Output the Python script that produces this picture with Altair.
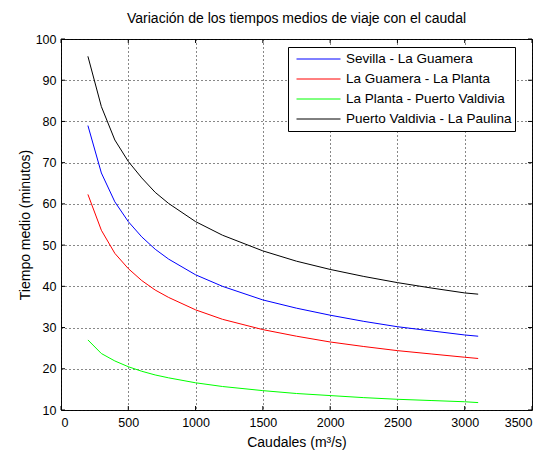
import altair as alt
import pandas as pd

caudal = [200, 300, 400, 500, 600, 700, 800, 1000, 1200, 1500, 1750, 2000, 2250, 2500, 2750, 3000, 3100]
sevilla_guamera = [79.0, 67.5, 60.5, 55.7, 52.0, 49.0, 46.6, 42.8, 40.0, 36.7, 34.7, 33.0, 31.5, 30.2, 29.2, 28.2, 27.9]
guamera_planta = [62.3, 53.6, 48.0, 44.3, 41.4, 39.1, 37.3, 34.3, 32.0, 29.5, 27.9, 26.5, 25.4, 24.4, 23.6, 22.8, 22.5]
planta_valdivia = [27.0, 23.7, 21.9, 20.5, 19.4, 18.5, 17.8, 16.6, 15.7, 14.7, 14.0, 13.5, 13.0, 12.6, 12.3, 12.0, 11.8]
valdivia_paulina = [95.8, 83.6, 75.5, 70.3, 66.3, 62.8, 60.1, 55.7, 52.4, 48.6, 46.1, 44.1, 42.4, 40.9, 39.6, 38.4, 38.1]

series_names = ["Sevilla - La Guamera", "La Guamera - La Planta",
                "La Planta - Puerto Valdivia", "Puerto Valdivia - La Paulina"]
series_colors = ["#0000ff", "#ff0000", "#00ff00", "#000000"]
x_ticks = [0, 500, 1000, 1500, 2000, 2500, 3000, 3500]
y_ticks = [10, 20, 30, 40, 50, 60, 70, 80, 90, 100]

rows = []
for name, vals in zip(series_names, [sevilla_guamera, guamera_planta, planta_valdivia, valdivia_paulina]):
    for q, t in zip(caudal, vals):
        rows.append({"Caudal": q, "Tiempo": t, "Tramo": name})
df = pd.DataFrame(rows)

xs = alt.Scale(domain=[0, 3500], nice=False, zero=False)
ys = alt.Scale(domain=[10, 100], nice=False, zero=False)

lines = alt.Chart(df).mark_line(strokeWidth=1, clip=True).encode(
    x=alt.X("Caudal:Q", scale=xs, title="Caudales (m³/s)",
            axis=alt.Axis(values=x_ticks, format="d", grid=True, gridDash=[1, 3], gridColor="#111111",
                          tickSize=0, labelPadding=6, domain=False, titlePadding=7)),
    y=alt.Y("Tiempo:Q", scale=ys, title="Tiempo medio (minutos)",
            axis=alt.Axis(values=y_ticks, grid=True, gridDash=[1, 3], gridColor="#111111",
                          tickSize=0, labelPadding=5, domain=False, titlePadding=3)),
    color=alt.Color("Tramo:N", scale=alt.Scale(domain=series_names, range=series_colors),
                    legend=alt.Legend(title=None, orient="none", legendX=227, legendY=8,
                                      symbolType="stroke", symbolSize=1936, symbolStrokeWidth=1,
                                      strokeColor="#000000", fillColor="#ffffff", padding=3,
                                      clipHeight=18, rowPadding=2, labelFontSize=13.5,
                                      labelLimit=400,
                                      labelOffset=5, labelColor="#000000", symbolOffset=5)),
    order=alt.Order("Caudal:Q"),
)

xt = pd.DataFrame({"v": x_ticks})
yt = pd.DataFrame({"v": y_ticks})

tick_bottom = alt.Chart(xt).mark_rule(color="#000000", strokeWidth=1, y2Offset=-4).encode(
    x=alt.X("v:Q", scale=xs), y=alt.datum(10, scale=ys), y2=alt.datum(10))
tick_top = alt.Chart(xt).mark_rule(color="#000000", strokeWidth=1, y2Offset=4).encode(
    x=alt.X("v:Q", scale=xs), y=alt.datum(100, scale=ys), y2=alt.datum(100))
tick_left = alt.Chart(yt).mark_rule(color="#000000", strokeWidth=1, x2Offset=4).encode(
    y=alt.Y("v:Q", scale=ys), x=alt.datum(0, scale=xs), x2=alt.datum(0))
tick_right = alt.Chart(yt).mark_rule(color="#000000", strokeWidth=1, x2Offset=-4).encode(
    y=alt.Y("v:Q", scale=ys), x=alt.datum(3500, scale=xs), x2=alt.datum(3500))

chart = alt.layer(lines, tick_bottom, tick_top, tick_left, tick_right).properties(
    width=471, height=371,
    title=alt.Title("Variación de los tiempos medios de viaje con el caudal",
                    fontSize=14, fontWeight="normal", font="Liberation Sans",
                    color="#000000", offset=7, frame="group"),
    autosize=alt.AutoSizeParams(type="none"),
    padding={"left": 61, "top": 39, "right": 11, "bottom": 40},
    background="#ffffff",
).configure_axis(
    labelFont="Liberation Sans", labelFontSize=12.5, labelColor="#000000",
    titleFont="Liberation Sans", titleFontSize=14, titleFontWeight="normal", titleColor="#000000",
).configure_legend(
    labelFont="Liberation Sans",
).configure_view(
    stroke="#000000", strokeWidth=1,
)

chart.save("out.html", embed_options={"renderer": "svg", "actions": False})
